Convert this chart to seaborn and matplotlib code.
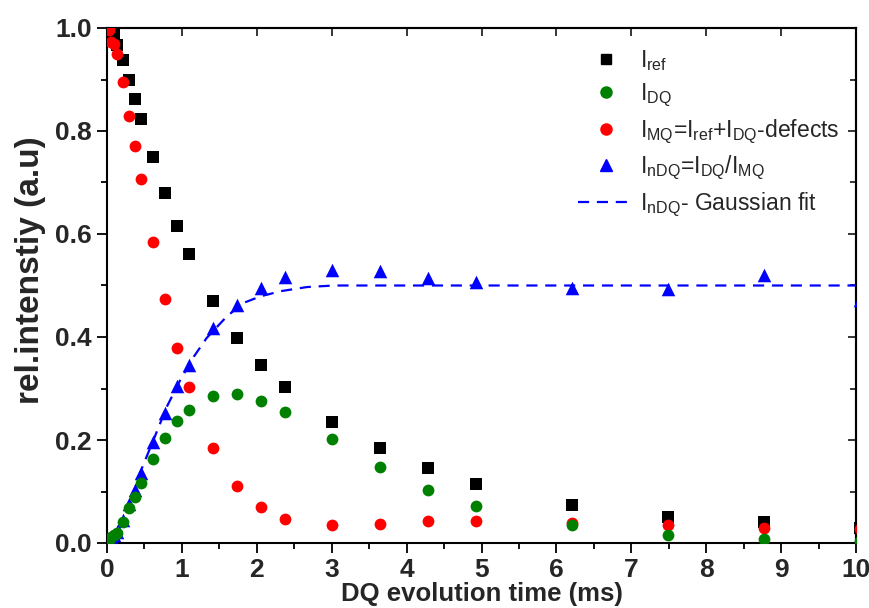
import matplotlib
matplotlib.use("Agg")
import matplotlib.pyplot as plt
from matplotlib.ticker import MultipleLocator, FormatStrFormatter
from matplotlib.lines import Line2D
import seaborn as sns
import pandas as pd

# DQ evolution times (ms)
time_ms = [0.03, 0.06, 0.10, 0.14, 0.21, 0.29, 0.37, 0.45, 0.61, 0.77, 0.93, 1.09,
           1.41, 1.73, 2.05, 2.37, 3.01, 3.65, 4.29, 4.93, 6.21, 7.49, 8.77, 10.05]

# reference intensity
i_ref = [1.000, 0.995, 0.986, 0.967, 0.937, 0.899, 0.862, 0.824, 0.750, 0.679, 0.616, 0.561,
         0.470, 0.398, 0.345, 0.302, 0.235, 0.184, 0.145, 0.115, 0.073, 0.051, 0.040, 0.030]

# double-quantum intensity
i_dq = [0.005, 0.012, 0.015, 0.020, 0.041, 0.067, 0.090, 0.117, 0.164, 0.203, 0.237, 0.258,
        0.286, 0.289, 0.276, 0.254, 0.201, 0.148, 0.103, 0.072, 0.034, 0.016, 0.008, 0.003]

# multi-quantum sum
i_mq = [0.996, 0.973, 0.969, 0.949, 0.896, 0.830, 0.771, 0.706, 0.584, 0.474, 0.379, 0.302,
        0.184, 0.111, 0.069, 0.046, 0.034, 0.036, 0.042, 0.043, 0.039, 0.034, 0.030, 0.028]

# normalised DQ intensity
i_ndq = [0.005, 0.012, 0.016, 0.022, 0.045, 0.075, 0.103, 0.136, 0.197, 0.253, 0.305, 0.346,
         0.417, 0.463, 0.496, 0.516, 0.530, 0.529, 0.514, 0.507, 0.495, 0.493, 0.520, 0.472]

# Gaussian fit of the normalised DQ build-up
fit_time = [0.0, 0.09, 0.27, 0.44, 0.62, 0.80, 0.98, 1.16, 1.33, 1.60, 1.82, 2.05,
            2.32, 2.67, 3.03, 3.5, 4.0, 5.0, 6.0, 7.0, 8.0, 9.0, 10.0]
fit_ndq = [0.0, 0.006, 0.058, 0.136, 0.200, 0.265, 0.317, 0.362, 0.398, 0.440, 0.466, 0.479,
           0.489, 0.497, 0.500, 0.500, 0.500, 0.500, 0.500, 0.500, 0.500, 0.500, 0.500]

labels = [r"I$_{\mathrm{ref}}$",
          r"I$_{\mathrm{DQ}}$",
          r"I$_{\mathrm{MQ}}$=I$_{\mathrm{ref}}$+I$_{\mathrm{DQ}}$-defects",
          r"I$_{\mathrm{nDQ}}$=I$_{\mathrm{DQ}}$/I$_{\mathrm{MQ}}$",
          r"I$_{\mathrm{nDQ}}$- Gaussian fit"]

df = pd.DataFrame({"t": time_ms, "ref": i_ref, "dq": i_dq, "mq": i_mq, "ndq": i_ndq})
fit_df = pd.DataFrame({"t": fit_time, "ndq": fit_ndq})

sns.set_theme(style="ticks")
plt.rcParams["font.family"] = ["Liberation Sans", "DejaVu Sans"]
plt.rcParams["mathtext.fontset"] = "custom"
plt.rcParams["mathtext.rm"] = "Liberation Sans"
plt.rcParams["mathtext.it"] = "Liberation Sans:italic"
plt.rcParams["mathtext.bf"] = "Liberation Sans:bold"

fig = plt.figure(figsize=(8.69, 6.08), dpi=100)
ax = fig.add_axes([107 / 869, 65 / 608, 749 / 869, 515 / 608])

BLACK, GREEN, RED, BLUE = "#000000", "#008000", "#ff0000", "#0000ff"

sns.scatterplot(data=df, x="t", y="ref", marker="s", color=BLACK, s=64,
                linewidth=0, ax=ax, zorder=3, legend=False)
sns.scatterplot(data=df, x="t", y="mq", marker="o", color=RED, s=72,
                linewidth=0, ax=ax, zorder=4, legend=False)
sns.scatterplot(data=df, x="t", y="ndq", marker="^", color=BLUE, s=95,
                linewidth=0, ax=ax, zorder=5, legend=False)
sns.lineplot(data=fit_df, x="t", y="ndq", color=BLUE, linewidth=1.6,
             dashes=False, ax=ax, zorder=6, legend=False)
ax.lines[-1].set_linestyle((0, (5, 3.5)))
sns.scatterplot(data=df, x="t", y="dq", marker="o", color=GREEN, s=72,
                linewidth=0, ax=ax, zorder=7, legend=False)

ax.set_xlim(0, 10)
ax.set_ylim(0, 1.0)

ax.xaxis.set_major_locator(MultipleLocator(1))
ax.xaxis.set_minor_locator(MultipleLocator(0.5))
ax.yaxis.set_major_locator(MultipleLocator(0.2))
ax.yaxis.set_minor_locator(MultipleLocator(0.1))
ax.yaxis.set_major_formatter(FormatStrFormatter("%.1f"))

for side in ["left", "right", "top", "bottom"]:
    ax.spines[side].set_visible(True)
    ax.spines[side].set_linewidth(1.5)
    ax.spines[side].set_color("black")

ax.tick_params(which="major", direction="out", length=7, width=1.3, color="black",
               labelsize=19, pad=4)
ax.tick_params(which="minor", direction="out", length=4, width=1.3, color="black")
for lab in ax.get_xticklabels() + ax.get_yticklabels():
    lab.set_fontweight("bold")

# mirrored axes with inward ticks on top and right
top = ax.secondary_xaxis("top")
top.xaxis.set_major_locator(MultipleLocator(1))
top.tick_params(which="major", direction="in", length=6, width=1.3, labeltop=False)
top.spines["top"].set_linewidth(1.5)
right = ax.secondary_yaxis("right")
right.yaxis.set_major_locator(MultipleLocator(0.2))
right.yaxis.set_minor_locator(MultipleLocator(0.1))
right.tick_params(which="major", direction="in", length=6, width=1.3, labelright=False)
right.tick_params(which="minor", direction="in", length=4, width=1.3)
right.spines["right"].set_linewidth(1.5)

ax.set_xlabel("DQ evolution time (ms)", fontsize=18.5, fontweight="bold", labelpad=0)
ax.set_ylabel("rel.intenstiy (a.u)", fontsize=24, fontweight="bold")
ax.yaxis.set_label_coords(-0.082, 0.53)

handles = [
    Line2D([], [], linestyle="none", marker="s", markersize=7.5, color=BLACK),
    Line2D([], [], linestyle="none", marker="o", markersize=8, color=GREEN),
    Line2D([], [], linestyle="none", marker="o", markersize=8, color=RED),
    Line2D([], [], linestyle="none", marker="^", markersize=9, color=BLUE),
    Line2D([], [], linestyle=(0, (5, 3.5)), linewidth=1.6, color=BLUE),
]
ax.legend(handles, labels, loc="upper left", bbox_to_anchor=(567 / 869, 1 - 37 / 608),
          bbox_transform=fig.transFigure, frameon=False, fontsize=16.5,
          handlelength=2.4, handletextpad=0.3, labelspacing=0.36, borderpad=0)

fig.savefig("out.png", dpi=100)
